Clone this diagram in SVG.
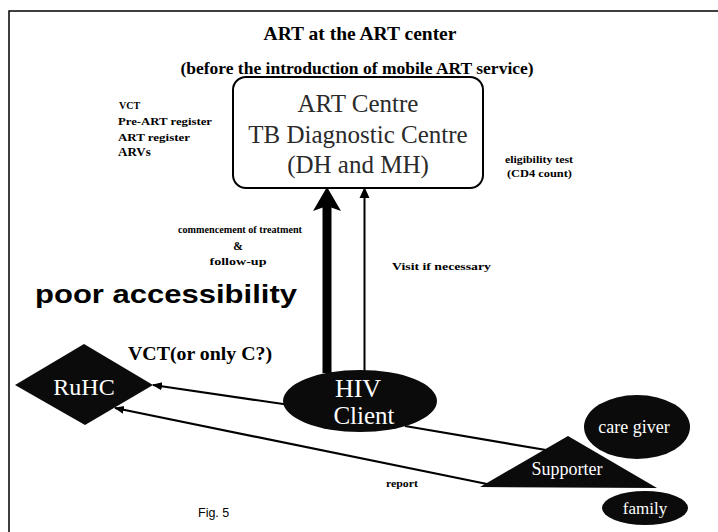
<svg xmlns="http://www.w3.org/2000/svg" width="718" height="532" viewBox="0 0 718 532">
<style>
.serif{font-family:"Liberation Serif","Times New Roman",serif}
.sans{font-family:"Liberation Sans",Arial,sans-serif}
.b{font-weight:bold}
.blk{fill:#0b0b0b}
.wt{fill:#ffffff}
.conn{stroke:#000;stroke-width:2.2;fill:none}
.lbl{fill:#000}
</style>
<defs>
<marker id="ah" viewBox="0 0 10 10" refX="9" refY="5" markerWidth="10" markerHeight="10" markerUnits="userSpaceOnUse" orient="auto">
<path d="M0,1 L10,5 L0,9 Z" fill="#000"/>
</marker>
</defs>
<rect width="718" height="532" fill="#fff"/>
<path d="M9,532 L9,11 L718,11" fill="none" stroke="#000" stroke-width="1.5"/>

<text class="serif b lbl" x="360" y="40" font-size="19.5" text-anchor="middle">ART at the ART center</text>
<text class="serif b lbl" x="357" y="74" font-size="17.5" text-anchor="middle">(before the introduction of mobile ART service)</text>

<g id="labels-left" class="serif b lbl">
<text x="119" y="109" font-size="10">VCT</text>
<text x="118" y="125" font-size="10.5" textLength="94" lengthAdjust="spacingAndGlyphs">Pre-ART register</text>
<text x="118" y="141" font-size="10.5" textLength="72" lengthAdjust="spacingAndGlyphs">ART register</text>
<text x="118" y="156" font-size="13">ARVs</text>
</g>
<g id="labels-right" class="serif b lbl">
<text x="505" y="163" font-size="9.5" textLength="68" lengthAdjust="spacingAndGlyphs">eligibility test</text>
<text x="507" y="177" font-size="9.5" textLength="65" lengthAdjust="spacingAndGlyphs">(CD4 count)</text>
</g>

<g id="art-centre">
<rect x="233" y="77" width="250" height="111" rx="13" ry="13" fill="#fff" stroke="#000" stroke-width="2"/>
<text class="serif" x="358" y="112" font-size="25" text-anchor="middle" fill="#2a2a2a">ART Centre</text>
<text class="serif" x="358" y="143" font-size="25" text-anchor="middle" fill="#2a2a2a">TB Diagnostic Centre</text>
<text class="serif" x="358" y="173" font-size="25" text-anchor="middle" fill="#2a2a2a">(DH and MH)</text>
</g>

<g id="connectors">
<rect x="322.5" y="205" width="9" height="168" fill="#000"/>
<polygon points="313,211 327,187 341,211 327,206" fill="#000"/>
<line x1="364.5" y1="373" x2="364.5" y2="195" stroke="#000" stroke-width="2"/>
<polygon points="359.5,198 364.5,187 369.5,198" fill="#000"/>
<line class="conn" x1="290" y1="405" x2="153" y2="385" marker-end="url(#ah)"/>
<line class="conn" x1="487" y1="484" x2="115" y2="408" marker-end="url(#ah)"/>
<line class="conn" x1="405" y1="426" x2="546" y2="450"/>
</g>

<g id="conn-labels" class="lbl">
<text class="serif b" x="240" y="233" font-size="11" text-anchor="middle" textLength="124" lengthAdjust="spacingAndGlyphs">commencement of treatment</text>
<text class="serif b" x="238" y="250" font-size="11.5" text-anchor="middle">&amp;</text>
<text class="serif b" x="238" y="265" font-size="11" text-anchor="middle" textLength="57" lengthAdjust="spacingAndGlyphs">follow-up</text>
<text class="serif b" x="392" y="270" font-size="10.5" textLength="99" lengthAdjust="spacingAndGlyphs">Visit if necessary</text>
<text class="sans b" x="35" y="303" font-size="25" textLength="262" lengthAdjust="spacingAndGlyphs">poor accessibility</text>
<text class="serif b" x="128" y="360" font-size="19" textLength="144" lengthAdjust="spacingAndGlyphs">VCT(or only C?)</text>
<text class="serif b" x="386" y="487" font-size="9.5" textLength="32" lengthAdjust="spacingAndGlyphs">report</text>
<text class="sans" x="198" y="517" font-size="12.5">Fig. 5</text>
</g>

<g id="ruhc">
<polygon class="blk" points="15,385 84,344 153,385 85,425"/>
<text class="serif wt" x="84" y="395" font-size="24" text-anchor="middle">RuHC</text>
</g>

<g id="hiv-client">
<ellipse class="blk" cx="360" cy="401" rx="77" ry="31"/>
<text class="serif wt" x="358" y="397" font-size="26" text-anchor="middle">HIV</text>
<text class="serif wt" x="364" y="424" font-size="25" text-anchor="middle">Client</text>
</g>

<g id="supporter">
<polygon class="blk" points="480,487 568,436 657,488"/>
<text class="serif wt" x="567" y="475" font-size="18" text-anchor="middle">Supporter</text>
</g>

<g id="care-giver">
<ellipse class="blk" cx="637" cy="427" rx="53" ry="32"/>
<text class="serif wt" x="634" y="433" font-size="18" text-anchor="middle">care giver</text>
</g>

<g id="family">
<ellipse class="blk" cx="645" cy="508" rx="43" ry="17"/>
<text class="serif wt" x="645" y="514" font-size="17" text-anchor="middle">family</text>
</g>
</svg>
